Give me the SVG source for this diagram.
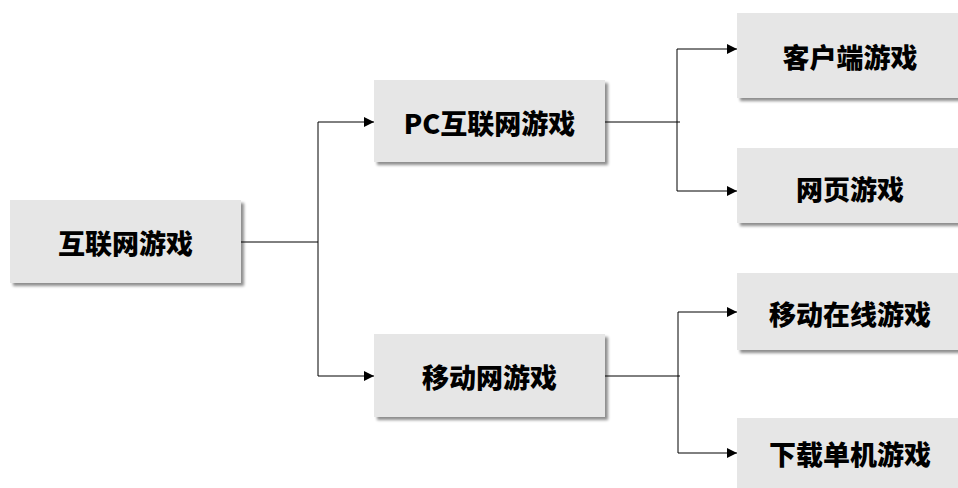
<svg xmlns="http://www.w3.org/2000/svg" width="958" height="488" viewBox="0 0 958 488">
<defs>
<filter id="sh" x="-10%" y="-10%" width="130%" height="130%">
<feGaussianBlur in="SourceAlpha" stdDeviation="1.5"/>
<feOffset dx="3" dy="3" result="b"/>
<feComponentTransfer><feFuncA type="linear" slope="0.45"/></feComponentTransfer>
<feMerge><feMergeNode/><feMergeNode in="SourceGraphic"/></feMerge>
</filter>
<marker id="ar" viewBox="0 0 10 10" refX="10" refY="5" markerWidth="10" markerHeight="10" markerUnits="userSpaceOnUse" orient="auto">
<path d="M0,0 L10,5 L0,10 z" fill="#000"/>
</marker>
<style>
.box{fill:#e6e6e6;filter:url(#sh)}
.t{font-family:"Noto Sans CJK SC","Liberation Sans",sans-serif;font-weight:900;font-size:27px;fill:#000;text-anchor:middle;dominant-baseline:central}
.c{fill:none;stroke:#000;stroke-width:1}
</style>
</defs>
<rect width="958" height="488" fill="#fff"/>
<g id="connectors">
<path class="c" d="M241,242 H318"/>
<path class="c" d="M318,122 V376"/>
<path class="c" d="M318,122 H374" marker-end="url(#ar)"/>
<path class="c" d="M318,376 H374" marker-end="url(#ar)"/>
<path class="c" d="M605,122 H680"/>
<path class="c" d="M677,49 V191"/>
<path class="c" d="M677,49 H737" marker-end="url(#ar)"/>
<path class="c" d="M677,191 H737" marker-end="url(#ar)"/>
<path class="c" d="M605,376 H680"/>
<path class="c" d="M678,312 V453"/>
<path class="c" d="M678,312 H737" marker-end="url(#ar)"/>
<path class="c" d="M678,453 H737" marker-end="url(#ar)"/>
</g>
<g id="n-root"><rect class="box" x="10" y="200" width="231" height="83"/><text class="t" x="125.5" y="242">互联网游戏</text></g>
<g id="n-pc"><rect class="box" x="374" y="80" width="231" height="82"/><text class="t" x="489.5" y="122">PC互联网游戏</text></g>
<g id="n-mobile"><rect class="box" x="374" y="334" width="231" height="83"/><text class="t" x="489.5" y="376">移动网游戏</text></g>
<g id="n-client"><rect class="box" x="737" y="13" width="230" height="85"/><text class="t" x="850" y="56">客户端游戏</text></g>
<g id="n-web"><rect class="box" x="737" y="148" width="230" height="75"/><text class="t" x="850" y="188">网页游戏</text></g>
<g id="n-mobile-online"><rect class="box" x="737" y="273" width="230" height="77"/><text class="t" x="850" y="313">移动在线游戏</text></g>
<g id="n-download"><rect class="box" x="737" y="418" width="230" height="80"/><text class="t" x="850" y="453">下载单机游戏</text></g>
</svg>
